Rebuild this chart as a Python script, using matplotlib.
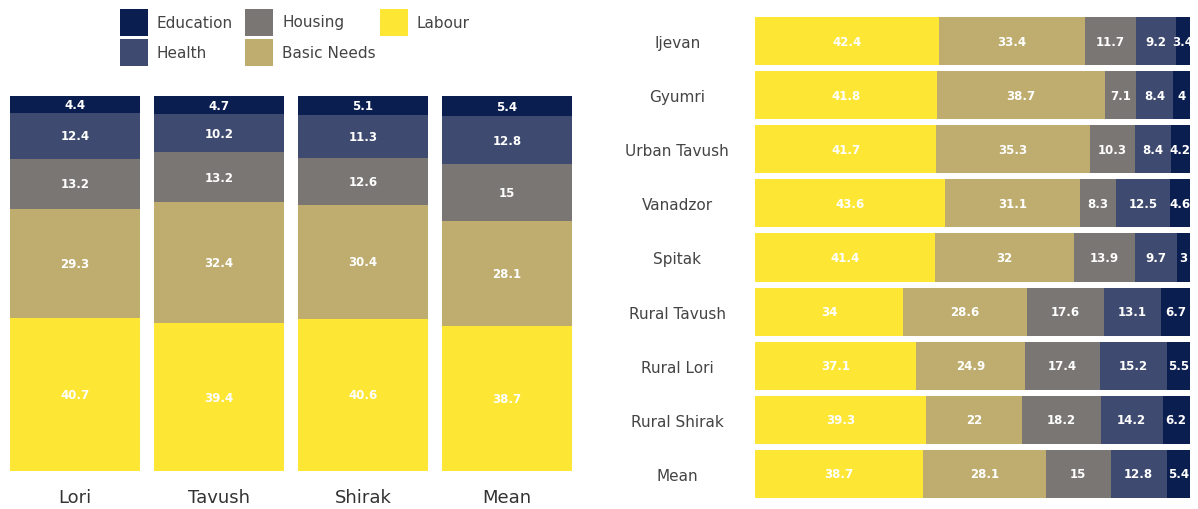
import numpy as np
import matplotlib.pyplot as plt
from matplotlib.patches import Rectangle

plt.rcParams['font.family'] = ['DejaVu Sans']

categories = ["Education", "Health", "Housing", "Basic Needs", "Labour"]
colors = ["#0b1e50", "#3e4a6f", "#7a7673", "#bead6e", "#fde634"]

# regional shares (%), stacked bottom-up: Labour, Basic Needs, Housing, Health, Education
regions = ["Lori", "Tavush", "Shirak", "Mean"]
reg_labour = [40.7, 39.4, 40.6, 38.7]
reg_basic = [29.3, 32.4, 30.4, 28.1]
reg_housing = [13.2, 13.2, 12.6, 15]
reg_health = [12.4, 10.2, 11.3, 12.8]
reg_education = [4.4, 4.7, 5.1, 5.4]

# community shares (%), left to right: Labour, Basic Needs, Housing, Health, Education
places = ["Ijevan", "Gyumri", "Urban Tavush", "Vanadzor", "Spitak",
          "Rural Tavush", "Rural Lori", "Rural Shirak", "Mean"]
pl_labour = [42.4, 41.8, 41.7, 43.6, 41.4, 34, 37.1, 39.3, 38.7]
pl_basic = [33.4, 38.7, 35.3, 31.1, 32, 28.6, 24.9, 22, 28.1]
pl_housing = [11.7, 7.1, 10.3, 8.3, 13.9, 17.6, 17.4, 18.2, 15]
pl_health = [9.2, 8.4, 8.4, 12.5, 9.7, 13.1, 15.2, 14.2, 12.8]
pl_education = [3.4, 4, 4.2, 4.6, 3, 6.7, 5.5, 6.2, 5.4]

W, H = 1198, 510
fig = plt.figure(figsize=(W / 100, H / 100), dpi=100)

def fmt(v):
    return f"{v:g}"

# left: vertical stacked columns
ax1 = fig.add_axes([3 / W, 38 / H, 576 / W, 375 / H])
x = np.arange(len(regions))
stack = [reg_labour, reg_basic, reg_housing, reg_health, reg_education]
stack_cols = [colors[4], colors[3], colors[2], colors[1], colors[0]]
bottom = np.zeros(len(regions))
for vals, col in zip(stack, stack_cols):
    vals = np.array(vals, dtype=float)
    ax1.bar(x, vals, 0.9, bottom=bottom, color=col, linewidth=0)
    for xi, b, v in zip(x, bottom, vals):
        ax1.text(xi, b + v / 2, fmt(v), ha="center", va="center",
                 color="white", fontsize=8.5, fontweight="bold")
    bottom += vals
ax1.set_xlim(-0.5, 3.5)
ax1.set_ylim(0, 100)
ax1.set_xticks(x)
ax1.set_xticklabels(regions, fontsize=13, color="#333333")
ax1.tick_params(axis="x", length=0, pad=12)
ax1.set_yticks([])
for s in ax1.spines.values():
    s.set_visible(False)

# right: horizontal stacked bars
ax2 = fig.add_axes([755 / W, 8 / H, 435 / W, 487 / H])
y = np.arange(len(places))
hstack = [pl_labour, pl_basic, pl_housing, pl_health, pl_education]
left = np.zeros(len(places))
for vals, col in zip(hstack, stack_cols):
    vals = np.array(vals, dtype=float)
    ax2.barh(y, vals, 0.89, left=left, color=col, linewidth=0)
    for yi, l, v in zip(y, left, vals):
        ax2.text(l + v / 2, yi, fmt(v), ha="center", va="center",
                 color="white", fontsize=8.5, fontweight="bold")
    left += vals
ax2.set_xlim(0, 100)
ax2.set_ylim(len(places) - 0.5, -0.5)
ax2.set_yticks(y)
ax2.set_yticklabels(places, fontsize=11, color="#444444", ha="center")
ax2.tick_params(axis="y", length=0, pad=56)
ax2.set_xticks([])
for s in ax2.spines.values():
    s.set_visible(False)

# legend: three columns of colour swatches (pixel layout)
col_x = [120, 245, 380]
row_top = [10, 40]
slots = [(0, 0), (0, 1), (1, 0), (1, 1), (2, 0)]
for name, col, (c, r) in zip(categories, colors, slots):
    x0, top = col_x[c], row_top[r]
    fig.patches.append(Rectangle((x0 / W, (H - top - 27) / H), 28 / W, 27 / H,
                                 transform=fig.transFigure, facecolor=col,
                                 edgecolor="none"))
    fig.text((x0 + 37) / W, (H - top - 13) / H, name, ha="left", va="center",
             fontsize=11, color="#444444")

fig.savefig("out.png", dpi=100, facecolor="white")
